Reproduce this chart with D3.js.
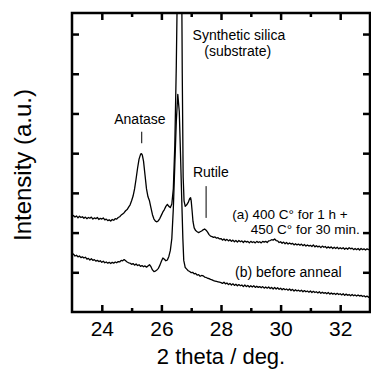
<!DOCTYPE html>
<html>
<head>
<meta charset="utf-8">
<script src="https://d3js.org/d3.v7.min.js"></script>
<style>
  body { margin: 0; background: #fff; }
  text { font-family: Arial, "Liberation Sans", sans-serif; fill: #000; }
</style>
</head>
<body>
<div id="chart"></div>
<script>
// x ticks (2 theta), labelled every 2 deg
var majorTicks = [24, 26, 28, 30, 32];
var minorTicks = [25, 27, 29, 31];
var yTicks = [1, 2, 3, 4, 5, 6, 7];

// (a) 400 C for 1 h + 450 C for 30 min
var curveA = [
  [23.00,2.40],[23.05,2.43],[23.10,2.39],[23.15,2.42],[23.20,2.37],[23.25,2.41],[23.30,2.38],[23.35,2.40],
  [23.40,2.36],[23.45,2.39],[23.50,2.35],[23.55,2.38],[23.60,2.36],[23.65,2.39],[23.70,2.34],[23.75,2.37],
  [23.80,2.35],[23.85,2.38],[23.90,2.33],[23.95,2.36],[24.00,2.34],[24.05,2.37],[24.10,2.32],[24.15,2.34],
  [24.20,2.30],[24.25,2.32],[24.30,2.29],[24.35,2.33],[24.40,2.31],[24.45,2.35],[24.50,2.34],[24.55,2.38],
  [24.60,2.40],[24.65,2.44],[24.70,2.47],[24.75,2.50],[24.80,2.55],[24.85,2.58],[24.90,2.64],[24.95,2.70],
  [25.00,2.80],[25.05,2.92],[25.10,3.10],[25.15,3.35],[25.20,3.62],[25.25,3.85],[25.30,3.97],[25.33,3.99],
  [25.36,3.95],[25.40,3.80],[25.45,3.45],[25.50,3.10],[25.55,2.90],[25.60,2.80],[25.65,2.62],[25.70,2.45],
  [25.75,2.34],[25.80,2.29],[25.85,2.27],[25.90,2.30],[25.95,2.36],[26.00,2.44],[26.05,2.52],[26.10,2.58],
  [26.15,2.66],[26.20,2.71],[26.25,2.66],[26.30,2.63],[26.35,2.72],[26.40,3.10],[26.45,4.20],[26.50,6.20],
  [26.55,9.00],[26.60,11.0],[26.66,11.0],[26.70,6.00],[26.73,3.40],[26.76,2.80],[26.80,2.66],[26.85,2.70],
  [26.90,2.76],[26.95,2.86],[26.98,2.88],[27.00,2.80],[27.03,2.55],[27.06,2.28],[27.10,2.12],[27.15,2.05],
  [27.20,2.02],[27.25,2.00],[27.30,2.02],[27.35,2.04],[27.40,2.07],[27.45,2.09],[27.50,2.06],[27.55,2.01],
  [27.60,1.95],[27.65,1.91],[27.70,1.90],[27.75,1.88],[27.80,1.89],[27.85,1.86],[27.90,1.87],[27.95,1.84],
  [28.00,1.85],[28.05,1.81],[28.10,1.84],[28.15,1.80],[28.20,1.83],[28.25,1.79],[28.30,1.82],[28.35,1.78],
  [28.40,1.81],[28.45,1.77],[28.50,1.80],[28.55,1.76],[28.60,1.80],[28.65,1.77],[28.70,1.79],[28.75,1.75],
  [28.80,1.79],[28.85,1.76],[28.90,1.78],[28.95,1.74],[29.00,1.78],[29.05,1.75],[29.10,1.77],[29.15,1.74],
  [29.20,1.78],[29.25,1.75],[29.30,1.77],[29.35,1.74],[29.40,1.78],[29.45,1.76],[29.50,1.78],[29.55,1.75],
  [29.60,1.79],[29.65,1.80],[29.70,1.82],[29.75,1.81],[29.80,1.84],[29.85,1.80],[29.90,1.79],[29.95,1.75],
  [30.00,1.77],[30.05,1.73],[30.10,1.76],[30.15,1.72],[30.20,1.75],[30.25,1.71],[30.30,1.74],[30.35,1.71],
  [30.40,1.73],[30.45,1.69],[30.50,1.72],[30.55,1.69],[30.60,1.71],[30.65,1.68],[30.70,1.71],[30.75,1.67],
  [30.80,1.70],[30.85,1.66],[30.90,1.69],[30.95,1.66],[31.00,1.68],[31.05,1.65],[31.10,1.69],[31.15,1.64],
  [31.20,1.67],[31.25,1.64],[31.30,1.66],[31.35,1.62],[31.40,1.66],[31.45,1.63],[31.50,1.65],[31.55,1.61],
  [31.60,1.64],[31.65,1.61],[31.70,1.64],[31.75,1.60],[31.80,1.63],[31.85,1.60],[31.90,1.63],[31.95,1.59],
  [32.00,1.62],[32.05,1.59],[32.10,1.62],[32.15,1.58],[32.20,1.61],[32.25,1.58],[32.30,1.62],[32.35,1.59],
  [32.40,1.61],[32.45,1.57],[32.50,1.60],[32.55,1.57],[32.60,1.60],[32.65,1.56],[32.70,1.60],[32.75,1.57],
  [32.80,1.59],[32.85,1.56],[32.90,1.59],[32.95,1.57],[33.00,1.58]
];

// (b) before anneal
var curveB = [
  [23.00,1.44],[23.05,1.46],[23.10,1.41],[23.15,1.43],[23.20,1.39],[23.25,1.41],[23.30,1.37],[23.35,1.39],
  [23.40,1.36],[23.45,1.38],[23.50,1.33],[23.55,1.35],[23.60,1.31],[23.65,1.34],[23.70,1.30],[23.75,1.32],
  [23.80,1.28],[23.85,1.30],[23.90,1.27],[23.95,1.29],[24.00,1.25],[24.05,1.28],[24.10,1.24],[24.15,1.26],
  [24.20,1.23],[24.25,1.25],[24.30,1.22],[24.35,1.25],[24.40,1.23],[24.45,1.26],[24.50,1.24],[24.55,1.27],
  [24.60,1.26],[24.65,1.30],[24.70,1.29],[24.75,1.32],[24.80,1.29],[24.85,1.26],[24.90,1.24],[24.95,1.23],
  [25.00,1.20],[25.05,1.22],[25.10,1.18],[25.15,1.21],[25.20,1.17],[25.25,1.19],[25.30,1.15],[25.35,1.17],
  [25.40,1.14],[25.45,1.16],[25.50,1.13],[25.55,1.16],[25.60,1.19],[25.65,1.14],[25.70,1.06],[25.75,1.02],
  [25.80,1.03],[25.85,1.06],[25.90,1.10],[25.95,1.18],[26.00,1.28],[26.05,1.36],[26.10,1.33],[26.15,1.29],
  [26.20,1.31],[26.25,1.40],[26.30,1.55],[26.35,1.85],[26.40,2.60],[26.45,3.70],[26.50,4.80],[26.55,5.48],
  [26.60,5.05],[26.64,4.00],[26.68,2.90],[26.72,1.85],[26.75,1.30],[26.80,1.12],[26.85,1.08],[26.90,1.04],
  [26.95,1.02],[27.00,0.99],[27.05,1.00],[27.10,0.96],[27.15,0.97],[27.20,0.93],[27.25,0.94],[27.30,0.90],
  [27.35,0.92],[27.40,0.91],[27.45,0.88],[27.50,0.87],[27.55,0.85],[27.60,0.84],[27.65,0.82],[27.70,0.81],
  [27.75,0.79],[27.80,0.78],[27.85,0.77],[27.90,0.76],[27.95,0.75],[28.00,0.74],[28.05,0.72],[28.10,0.75],
  [28.15,0.71],[28.20,0.73],[28.25,0.69],[28.30,0.72],[28.35,0.68],[28.40,0.71],[28.45,0.67],[28.50,0.70],
  [28.55,0.66],[28.60,0.69],[28.65,0.66],[28.70,0.68],[28.75,0.64],[28.80,0.68],[28.85,0.64],[28.90,0.67],
  [28.95,0.63],[29.00,0.66],[29.05,0.63],[29.10,0.66],[29.15,0.62],[29.20,0.65],[29.25,0.62],[29.30,0.64],
  [29.35,0.61],[29.40,0.64],[29.45,0.60],[29.50,0.63],[29.55,0.60],[29.60,0.63],[29.65,0.59],[29.70,0.62],
  [29.75,0.58],[29.80,0.62],[29.85,0.58],[29.90,0.61],[29.95,0.57],[30.00,0.60],[30.05,0.56],[30.10,0.59],
  [30.15,0.56],[30.20,0.58],[30.25,0.55],[30.30,0.58],[30.35,0.54],[30.40,0.57],[30.45,0.53],[30.50,0.56],
  [30.55,0.53],[30.60,0.55],[30.65,0.52],[30.70,0.55],[30.75,0.51],[30.80,0.54],[30.85,0.51],[30.90,0.53],
  [30.95,0.50],[31.00,0.53],[31.05,0.49],[31.10,0.52],[31.15,0.49],[31.20,0.51],[31.25,0.48],[31.30,0.51],
  [31.35,0.47],[31.40,0.50],[31.45,0.47],[31.50,0.49],[31.55,0.46],[31.60,0.49],[31.65,0.45],[31.70,0.48],
  [31.75,0.45],[31.80,0.47],[31.85,0.44],[31.90,0.47],[31.95,0.44],[32.00,0.46],[32.05,0.43],[32.10,0.46],
  [32.15,0.42],[32.20,0.45],[32.25,0.42],[32.30,0.44],[32.35,0.41],[32.40,0.44],[32.45,0.41],[32.50,0.43],
  [32.55,0.40],[32.60,0.43],[32.65,0.40],[32.70,0.42],[32.75,0.39],[32.80,0.41],[32.85,0.38],[32.90,0.40],
  [32.95,0.37],[33.00,0.39]
];

var W = 371, H = 371;
// plot frame edges in px (note: "top" is taken by window.top)
var padL = 72, padR = 370, padT = 13, padB = 312;

var svg = d3.select("#chart").append("svg")
  .attr("width", W)
  .attr("height", H);

var x = d3.scaleLinear().domain([23, 33]).range([padL, padR]);
var y = d3.scaleLinear().domain([0, 7.53]).range([padB, padT]);

svg.append("clipPath").attr("id", "plotclip")
  .append("rect")
  .attr("x", padL).attr("y", padT)
  .attr("width", padR - padL).attr("height", padB - padT);

// curves
var line = d3.line()
  .x(function(d) { return x(d[0]); })
  .y(function(d) { return y(d[1]); });

svg.append("g").attr("clip-path", "url(#plotclip)")
  .selectAll("path")
  .data([curveA, curveB])
  .enter().append("path")
  .attr("d", line)
  .attr("fill", "none")
  .attr("stroke", "#000")
  .attr("stroke-width", 1.3)
  .attr("stroke-linejoin", "round");

// axes (ticks point inwards)
function styleAxis(g) {
  g.select(".domain").remove();
  g.selectAll(".tick line").attr("stroke", "#000").attr("stroke-width", 2.5);
}

svg.append("g")
  .attr("transform", "translate(0," + padB + ")")
  .call(d3.axisBottom(x).tickValues(majorTicks).tickSize(-7).tickPadding(9).tickFormat(d3.format("d")))
  .call(styleAxis)
  .attr("font-family", null)
  .attr("font-size", null)
  .selectAll("text")
  .style("font-size", "21px");

svg.append("g")
  .attr("transform", "translate(0," + padB + ")")
  .call(d3.axisBottom(x).tickValues(minorTicks).tickSize(-4).tickFormat(""))
  .call(styleAxis);

svg.append("g")
  .attr("transform", "translate(0," + padT + ")")
  .call(d3.axisTop(x).tickValues(majorTicks).tickSize(-7).tickFormat(""))
  .call(styleAxis);

svg.append("g")
  .attr("transform", "translate(0," + padT + ")")
  .call(d3.axisTop(x).tickValues(minorTicks).tickSize(-4).tickFormat(""))
  .call(styleAxis);

svg.append("g")
  .attr("transform", "translate(" + padL + ",0)")
  .call(d3.axisLeft(y).tickValues(yTicks).tickSize(-7).tickFormat(""))
  .call(styleAxis);

svg.append("g")
  .attr("transform", "translate(" + padR + ",0)")
  .call(d3.axisRight(y).tickValues(yTicks).tickSize(-7).tickFormat(""))
  .call(styleAxis);

// frame
svg.append("rect")
  .attr("x", padL).attr("y", padT)
  .attr("width", padR - padL).attr("height", padB - padT)
  .attr("fill", "none")
  .attr("stroke", "#000")
  .attr("stroke-width", 2.5);

// axis titles
svg.append("text")
  .attr("x", (padL + padR) / 2)
  .attr("y", 364)
  .attr("text-anchor", "middle")
  .style("font-size", "22px")
  .text("2 theta / deg.");

svg.append("text")
  .attr("transform", "translate(31,165) rotate(-90)")
  .attr("text-anchor", "middle")
  .style("font-size", "24px")
  .text("Intensity (a.u.)");

// peak annotations
var ann = svg.append("g").style("font-size", "14px");

ann.append("text").attr("x", x(28.6)).attr("y", y(6.86))
  .attr("text-anchor", "middle").text("Synthetic silica");
ann.append("text").attr("x", x(28.56)).attr("y", y(6.45))
  .attr("text-anchor", "middle").text("(substrate)");

ann.append("text").attr("x", x(25.28)).attr("y", y(4.73))
  .attr("text-anchor", "middle").text("Anatase");
svg.append("line")
  .attr("x1", x(25.34)).attr("x2", x(25.34))
  .attr("y1", y(4.54)).attr("y2", y(4.25))
  .attr("stroke", "#000").attr("stroke-width", 1);

ann.append("text").attr("x", x(27.66)).attr("y", y(3.41))
  .attr("text-anchor", "middle").text("Rutile");
svg.append("line")
  .attr("x1", x(27.5)).attr("x2", x(27.5))
  .attr("y1", y(3.17)).attr("y2", y(2.37))
  .attr("stroke", "#000").attr("stroke-width", 1);

ann.append("text").attr("x", x(28.38)).attr("y", y(2.34))
  .style("font-size", "13.5px").text("(a) 400 C\u00b0 for 1 h +");
ann.append("text").attr("x", x(29.0)).attr("y", y(1.96))
  .style("font-size", "13.5px").text("450 C\u00b0 for 30 min.");
ann.append("text").attr("x", x(28.47)).attr("y", y(0.89))
  .text("(b) before anneal");
</script>
</body>
</html>
